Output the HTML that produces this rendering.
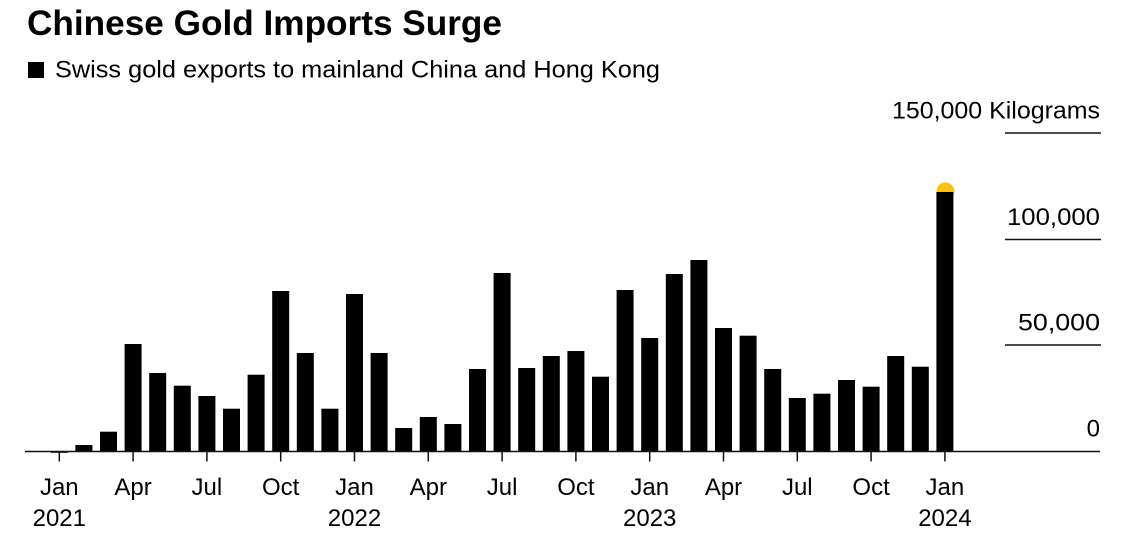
<!DOCTYPE html>
<html>
<head>
<meta charset="utf-8">
<style>
  html, body { margin: 0; padding: 0; background: #ffffff; }
  svg { display: block; }
  text { font-family: "Liberation Sans", Arial, sans-serif; fill: #000; }
</style>
</head>
<body>
<svg width="1127" height="538" viewBox="0 0 1127 538" xmlns="http://www.w3.org/2000/svg">
  <rect x="0" y="0" width="1127" height="538" fill="#ffffff"/>
  <!-- Title -->
  <text x="27" y="35" font-size="35" font-weight="bold" textLength="475" lengthAdjust="spacingAndGlyphs">Chinese Gold Imports Surge</text>
  <!-- Legend -->
  <rect x="28" y="62" width="16" height="16" fill="#000"/>
  <text x="55" y="77.5" font-size="24.5" textLength="605" lengthAdjust="spacingAndGlyphs">Swiss gold exports to mainland China and Hong Kong</text>

  <!-- Gridlines (right side) -->
  <g stroke="#111" stroke-width="1.5">
    <line x1="1005" y1="133" x2="1101" y2="133"/>
    <line x1="1005" y1="239.5" x2="1101" y2="239.5"/>
    <line x1="1005" y1="345" x2="1101" y2="345"/>
  </g>
  <!-- Y labels -->
  <g font-size="24" text-anchor="end">
    <text x="1100" y="118.5" textLength="208" lengthAdjust="spacingAndGlyphs">150,000 Kilograms</text>
    <text x="1100" y="225" textLength="93" lengthAdjust="spacingAndGlyphs">100,000</text>
    <text x="1100" y="330.5" textLength="82" lengthAdjust="spacingAndGlyphs">50,000</text>
    <text x="1100" y="436.5">0</text>
  </g>

  <!-- Yellow dot -->
  <circle cx="945.5" cy="191.5" r="9" fill="#F7C21B"/>

  <!-- Bars -->
  <g fill="#000">
    <rect x="50.8" y="451" width="17" height="1.8"/>
    <rect x="75.4" y="445" width="17" height="6"/>
    <rect x="100" y="431.7" width="17" height="19.3"/>
    <rect x="124.6" y="344" width="17" height="107"/>
    <rect x="149.2" y="373" width="17" height="78"/>
    <rect x="173.8" y="385.7" width="17" height="65.3"/>
    <rect x="198.4" y="396" width="17" height="55"/>
    <rect x="223" y="408.7" width="17" height="42.3"/>
    <rect x="247.6" y="374.7" width="17" height="76.3"/>
    <rect x="272.2" y="291" width="17" height="160"/>
    <rect x="296.8" y="353" width="17" height="98"/>
    <rect x="321.4" y="408.7" width="17" height="42.3"/>
    <rect x="346" y="294" width="17" height="157"/>
    <rect x="370.6" y="353" width="17" height="98"/>
    <rect x="395.2" y="428" width="17" height="23"/>
    <rect x="419.8" y="417" width="17" height="34"/>
    <rect x="444.4" y="424" width="17" height="27"/>
    <rect x="469" y="369" width="17" height="82"/>
    <rect x="493.6" y="273" width="17" height="178"/>
    <rect x="518.2" y="368" width="17" height="83"/>
    <rect x="542.8" y="356" width="17" height="95"/>
    <rect x="567.4" y="351" width="17" height="100"/>
    <rect x="592" y="376.7" width="17" height="74.3"/>
    <rect x="616.6" y="290" width="17" height="161"/>
    <rect x="641.2" y="338" width="17" height="113"/>
    <rect x="665.8" y="274" width="17" height="177"/>
    <rect x="690.4" y="260" width="17" height="191"/>
    <rect x="715" y="328" width="17" height="123"/>
    <rect x="739.6" y="335.7" width="17" height="115.3"/>
    <rect x="764.2" y="369" width="17" height="82"/>
    <rect x="788.8" y="398" width="17" height="53"/>
    <rect x="813.4" y="393.7" width="17" height="57.3"/>
    <rect x="838" y="380" width="17" height="71"/>
    <rect x="862.6" y="386.7" width="17" height="64.3"/>
    <rect x="887.2" y="356" width="17" height="95"/>
    <rect x="911.8" y="366.7" width="17" height="84.3"/>
    <rect x="936.4" y="192" width="17" height="259"/>
  </g>

  <!-- Baseline -->
  <line x1="25" y1="451.5" x2="1100" y2="451.5" stroke="#111" stroke-width="1.6"/>

  <!-- Ticks -->
  <g stroke="#111" stroke-width="1.5">
    <line x1="59.3" y1="451.5" x2="59.3" y2="461.5"/>
    <line x1="133.1" y1="451.5" x2="133.1" y2="461.5"/>
    <line x1="206.9" y1="451.5" x2="206.9" y2="461.5"/>
    <line x1="280.7" y1="451.5" x2="280.7" y2="461.5"/>
    <line x1="354.5" y1="451.5" x2="354.5" y2="461.5"/>
    <line x1="428.3" y1="451.5" x2="428.3" y2="461.5"/>
    <line x1="502.1" y1="451.5" x2="502.1" y2="461.5"/>
    <line x1="575.9" y1="451.5" x2="575.9" y2="461.5"/>
    <line x1="649.7" y1="451.5" x2="649.7" y2="461.5"/>
    <line x1="723.5" y1="451.5" x2="723.5" y2="461.5"/>
    <line x1="797.3" y1="451.5" x2="797.3" y2="461.5"/>
    <line x1="871.1" y1="451.5" x2="871.1" y2="461.5"/>
    <line x1="944.9" y1="451.5" x2="944.9" y2="461.5"/>
  </g>

  <!-- X labels -->
  <g font-size="24" text-anchor="middle">
    <text x="59.3" y="495">Jan</text>
    <text x="59.3" y="526">2021</text>
    <text x="133.1" y="495">Apr</text>
    <text x="206.9" y="495">Jul</text>
    <text x="280.7" y="495">Oct</text>
    <text x="354.5" y="495">Jan</text>
    <text x="354.5" y="526">2022</text>
    <text x="428.3" y="495">Apr</text>
    <text x="502.1" y="495">Jul</text>
    <text x="575.9" y="495">Oct</text>
    <text x="649.7" y="495">Jan</text>
    <text x="649.7" y="526">2023</text>
    <text x="723.5" y="495">Apr</text>
    <text x="797.3" y="495">Jul</text>
    <text x="871.1" y="495">Oct</text>
    <text x="944.9" y="495">Jan</text>
    <text x="944.9" y="526">2024</text>
  </g>
</svg>
</body>
</html>
